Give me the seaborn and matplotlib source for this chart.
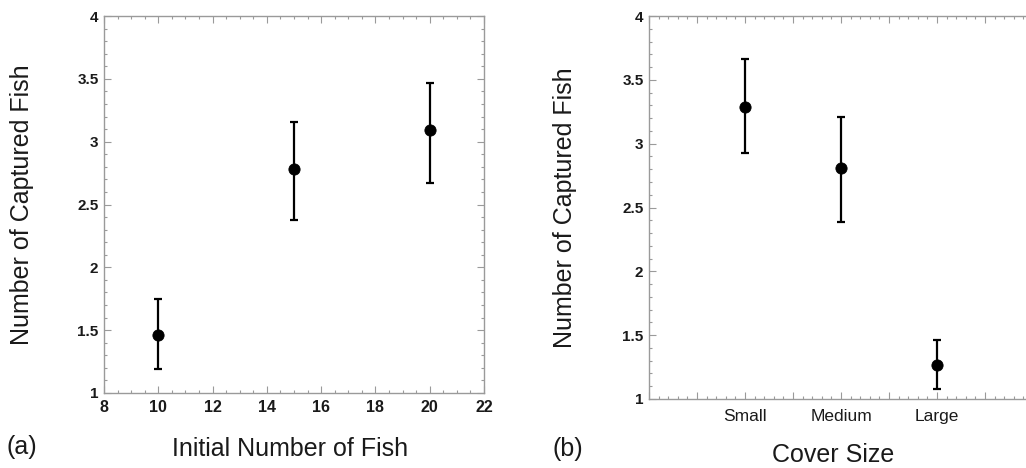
import numpy as np
import pandas as pd
import matplotlib
matplotlib.use("Agg")
import matplotlib.pyplot as plt
import seaborn as sns
from matplotlib.ticker import MultipleLocator

# Panel (a) data
initial_fish = [10, 15, 20]
captured_a = [1.46, 2.78, 3.09]
err_low_a = [1.19, 2.38, 2.675]
err_high_a = [1.75, 3.16, 3.47]

# Panel (b) data
cover_sizes = ["Small", "Medium", "Large"]
captured_b = [3.29, 2.81, 1.27]
err_low_b = [2.93, 2.39, 1.08]
err_high_b = [3.66, 3.21, 1.46]

sns.set_style("white")
plt.rcParams["font.family"] = ["Liberation Sans", "DejaVu Sans"]

fig = plt.figure(figsize=(10.26, 4.68), dpi=100)
W, H = 1026, 468

def axes_px(l, r, t, b):
    return fig.add_axes([l / W, (H - b) / H, (r - l) / W, (b - t) / H])

ax1 = axes_px(104, 484, 16, 393)
ax2 = axes_px(649, 1033, 16, 399)

spine_col = "#9a9a9a"
text_col = "#1a1a1a"

def style(ax, ylabel_x):
    for s in ax.spines.values():
        s.set_color(spine_col)
        s.set_linewidth(1.0)
        s.set_visible(True)
    ax.tick_params(which="both", direction="in", top=True, right=True,
                   bottom=True, left=True, color=spine_col, width=0.8)
    ax.tick_params(which="major", length=5)
    ax.tick_params(which="minor", length=2.5)
    ax.set_ylim(1, 4)
    ax.yaxis.set_minor_locator(MultipleLocator(0.1))
    ax.set_yticks([1, 1.5, 2, 2.5, 3, 3.5, 4])
    ax.set_yticklabels(["1", "1.5", "2", "2.5", "3", "3.5", "4"],
                       fontsize=11, fontweight="bold", color=text_col)
    ax.tick_params(axis="y", pad=4)
    ax.set_ylabel("Number of Captured Fish", fontsize=18, color=text_col)
    ax.yaxis.set_label_coords(ylabel_x, 0.5)

def draw(ax, x, y, lo, hi):
    y = np.array(y)
    ax.errorbar(x, y, yerr=[y - np.array(lo), np.array(hi) - y],
                fmt="none", ecolor="black", elinewidth=1.6, capsize=3.2,
                capthick=1.6)
    sns.scatterplot(data=pd.DataFrame({"x": x, "y": y}), x="x", y="y", ax=ax,
                    color="black", s=65, edgecolor="black", zorder=5)

# Panel (a)
draw(ax1, initial_fish, captured_a, err_low_a, err_high_a)
style(ax1, -0.184)
ax1.set_xlim(8, 22)
ax1.xaxis.set_major_locator(MultipleLocator(2))
ax1.xaxis.set_minor_locator(MultipleLocator(0.5))
ax1.tick_params(axis="x", labelsize=11.5, pad=5)
for lab in ax1.get_xticklabels():
    lab.set_fontweight("bold")
    lab.set_color(text_col)
ax1.set_xlabel("Initial Number of Fish", fontsize=18, color=text_col)
ax1.xaxis.set_label_coords(0.49, -0.117)

# Panel (b)
xb = np.arange(len(cover_sizes)) + 1
draw(ax2, xb, captured_b, err_low_b, err_high_b)
style(ax2, -0.187)
ax2.set_xlim(0, 4)
ax2.xaxis.set_minor_locator(MultipleLocator(0.1))
major_b = np.arange(0, 4.01, 0.5)
ax2.set_xticks(major_b)
ax2.set_xticklabels(["" if v not in xb else cover_sizes[int(v) - 1]
                     for v in major_b],
                    fontsize=12.5, color=text_col)
ax2.tick_params(axis="x", pad=7)
ax2.set_xlabel("Cover Size", fontsize=18, color=text_col)
ax2.xaxis.set_label_coords((833 - 649) / 384, -0.114)

fig.text(7 / W, 1 - 447 / H, "(a)", fontsize=18, va="center", ha="left",
         color=text_col)
fig.text(552 / W, 1 - 449 / H, "(b)", fontsize=18, va="center", ha="left",
         color=text_col)

fig.savefig("out.png", dpi=100)
